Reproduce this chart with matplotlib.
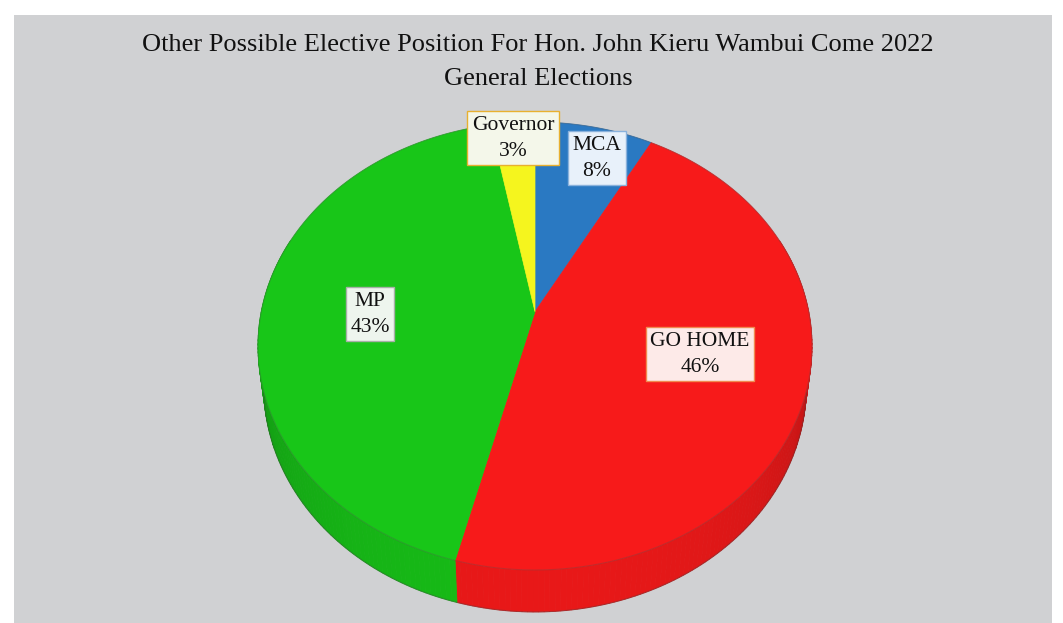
import numpy as np
import matplotlib
matplotlib.use('Agg')
import matplotlib.pyplot as plt
from matplotlib.patches import Polygon, Rectangle
from matplotlib.colors import to_rgb

# ---- data (clockwise from 12 o'clock) ----
categories = ['MCA', 'GO HOME', 'MP', 'Governor']
values = [8, 46, 43, 3]
colors = ['#2a79c2', '#f71a1a', '#18c618', '#f5f51e']
title_lines = ['Other Possible Elective Position For Hon. John Kieru Wambui Come 2022',
               'General Elections']

# ---- layout / style ----
label_xy = [(597, 158), (700, 354), (370, 314), (513, 138)]
label_fc = ['#e8f1fa', '#fdeae8', '#eef5ee', '#f4f7ea']
label_ec = ['#8ab2dc', '#f08a50', '#a8b0a8', '#e8b030']
FONT = 'Liberation Serif'

W, H = 1063, 623
fig = plt.figure(figsize=(W / 100, H / 100), dpi=100)
fig.patch.set_facecolor('white')
ax = fig.add_axes([0, 0, 1, 1])
ax.set_xlim(0, W)
ax.set_ylim(H, 0)
ax.axis('off')
ax.add_patch(Rectangle((14, 15), 1038, 608, fc='#d0d1d3', ec='none', zorder=0))

# ---- 3D projection of a unit disk ----
elev = np.radians(40)
D = 5.0
h = 0.16


def proj(phi_deg, z):
    phi = np.radians(phi_deg)
    X = np.sin(phi)
    Y = np.cos(phi)
    t = -Y * np.cos(elev) + z * np.sin(elev)
    m = D / (D - t)
    return X * m, (Y * np.sin(elev) + z * np.cos(elev)) * m


phis = np.linspace(0, 360, 1441)
sx, sy = proj(phis, 0.0)
left, right, top, bottom = 258, 812, 122, 570
cx = (left + right) / 2
Sx = (right - left) / (sx.max() - sx.min())
Sy = (bottom - top) / (sy.max() - sy.min())
cy = top + sy.max() * Sy


def to_px(phi_deg, z):
    a, b = proj(np.asarray(phi_deg, dtype=float), z)
    return cx + a * Sx, cy - b * Sy


total = float(sum(values))
starts = np.cumsum([0] + values[:-1]) / total * 360
ends = np.cumsum(values) / total * 360

# sides (front half)
for s, e, c in zip(starts, ends, colors):
    lo, hi = max(s, 70), min(e, 290)
    if hi <= lo:
        continue
    n = max(2, int((hi - lo) / 1.0) + 1)
    angs = np.linspace(lo, hi, n)
    base = np.array(to_rgb(c))
    for a0, a1 in zip(angs[:-1], angs[1:]):
        am = 0.5 * (a0 + a1)
        f = 0.74 + 0.2 * max(0.0, -np.cos(np.radians(am)))
        col = np.clip(base * f, 0, 1)
        x0t, y0t = to_px(a0, 0)
        x1t, y1t = to_px(a1, 0)
        x0b, y0b = to_px(a0, -h)
        x1b, y1b = to_px(a1, -h)
        ax.add_patch(Polygon([(x0t, y0t), (x1t, y1t), (x1b, y1b), (x0b, y0b)],
                             closed=True, fc=col, ec=col, lw=0.6, zorder=2))

# bottom outline
ang = np.linspace(70, 290, 300)
bx, by = to_px(ang, -h)
ax.plot(bx, by, color='#404040', lw=0.8, alpha=0.35, zorder=3)

# top faces
for s, e, c in zip(starts, ends, colors):
    angs = np.linspace(s, e, max(3, int(e - s) * 2))
    xs, ys = to_px(angs, 0)
    pts = [(cx, cy)] + list(zip(xs, ys))
    ax.add_patch(Polygon(pts, closed=True, fc=c, ec=c, lw=0.5, zorder=4))

tx, ty = to_px(phis, 0)
ax.plot(tx, ty, color='#505050', lw=0.8, alpha=0.3, zorder=5)

# labels
for cat, v, (lx, ly), fc, ec in zip(categories, values, label_xy, label_fc, label_ec):
    ax.text(lx, ly, f'{cat}\n{v}%', ha='center', va='center', fontsize=15.5,
            family=FONT, color='#111111', linespacing=1.5, zorder=10,
            bbox=dict(boxstyle='square,pad=0.22', fc=fc, ec=ec, lw=1.0))

# title
ax.text(538, 45, title_lines[0], ha='center', va='center', fontsize=19,
        family=FONT, color='#111111', zorder=10)
ax.text(538, 79, title_lines[1], ha='center', va='center', fontsize=19,
        family=FONT, color='#111111', zorder=10)

fig.savefig('out.png', dpi=100, facecolor=fig.get_facecolor())
